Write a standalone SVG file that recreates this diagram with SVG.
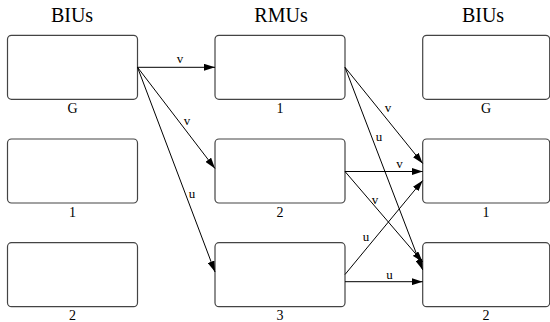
<svg xmlns="http://www.w3.org/2000/svg" width="550" height="322" viewBox="0 0 550 322">
  <style>
    text { font-family: 'Liberation Serif', 'DejaVu Serif', 'Times New Roman', serif; fill: #000; text-anchor: middle; }
    .title { font-size: 20px; }
    .lbl { font-size: 14px; }
    .elbl { font-size: 13px; }
    .box { fill: #fff; stroke: #444; stroke-width: 1.2; }
    .edge { fill: none; stroke: #000; stroke-width: 1; marker-end: url(#arrow); }
  </style>
  <defs>
    <marker id="arrow" viewBox="0 0 11 7" refX="11" refY="3.5" markerWidth="11" markerHeight="7" markerUnits="userSpaceOnUse" orient="auto">
      <path d="M0,0 L11,3.5 L0,7 Z" fill="#000"/>
    </marker>
  </defs>
  <rect width="550" height="322" fill="#fff"/>

  <!-- column titles -->
  <g font-family="Liberation Serif, serif">
    <text class="title" x="72" y="22">BIUs</text>
    <text class="title" x="281" y="22">RMUs</text>
    <text class="title" x="483" y="22">BIUs</text>
  </g>

  <!-- source BIUs -->
  <g id="biu-src-G">
    <rect class="box" x="7.5" y="35.3" width="130" height="64" rx="4"/>
    <text class="lbl" x="72.5" y="113.3">G</text>
  </g>
  <g id="biu-src-1">
    <rect class="box" x="7.5" y="139" width="130" height="64" rx="4"/>
    <text class="lbl" x="72.5" y="217">1</text>
  </g>
  <g id="biu-src-2">
    <rect class="box" x="7.5" y="242.7" width="130" height="64" rx="4"/>
    <text class="lbl" x="72.5" y="319.5">2</text>
  </g>

  <!-- RMUs -->
  <g id="rmu-1">
    <rect class="box" x="215" y="35.3" width="130" height="64" rx="4"/>
    <text class="lbl" x="280" y="113.3">1</text>
  </g>
  <g id="rmu-2">
    <rect class="box" x="215" y="139" width="130" height="64" rx="4"/>
    <text class="lbl" x="280" y="217">2</text>
  </g>
  <g id="rmu-3">
    <rect class="box" x="215" y="242.7" width="130" height="64" rx="4"/>
    <text class="lbl" x="280" y="319.5">3</text>
  </g>

  <!-- destination BIUs -->
  <g id="biu-dst-G">
    <rect class="box" x="422.7" y="35.3" width="127" height="64" rx="4"/>
    <text class="lbl" x="486" y="113.3">G</text>
  </g>
  <g id="biu-dst-1">
    <rect class="box" x="422.7" y="139" width="127" height="64" rx="4"/>
    <text class="lbl" x="486" y="217">1</text>
  </g>
  <g id="biu-dst-2">
    <rect class="box" x="422.7" y="242.7" width="127" height="64" rx="4"/>
    <text class="lbl" x="486" y="319.5">2</text>
  </g>

  <!-- connectors -->
  <g id="connectors">
    <line class="edge" x1="137.5" y1="67.3" x2="215" y2="67.3"/>
    <text class="elbl" x="180" y="63">v</text>

    <line class="edge" x1="137.5" y1="67.3" x2="215" y2="168.5"/>
    <text class="elbl" x="187" y="125">v</text>

    <line class="edge" x1="137.5" y1="67.3" x2="215" y2="272"/>
    <text class="elbl" x="192" y="198">u</text>

    <line class="edge" x1="345" y1="67.3" x2="422.7" y2="163.5"/>
    <text class="elbl" x="388" y="112">v</text>

    <line class="edge" x1="345" y1="67.3" x2="422.7" y2="270"/>
    <text class="elbl" x="379" y="141">u</text>

    <line class="edge" x1="345" y1="171.5" x2="422.7" y2="171.5"/>
    <text class="elbl" x="399.5" y="168">v</text>

    <line class="edge" x1="345" y1="171.5" x2="422.7" y2="262"/>
    <text class="elbl" x="375" y="204">v</text>

    <line class="edge" x1="345" y1="274.5" x2="422.7" y2="180.5"/>
    <text class="elbl" x="366" y="241">u</text>

    <line class="edge" x1="345" y1="281.7" x2="422.7" y2="281.7"/>
    <text class="elbl" x="389.5" y="279">u</text>
  </g>
</svg>
